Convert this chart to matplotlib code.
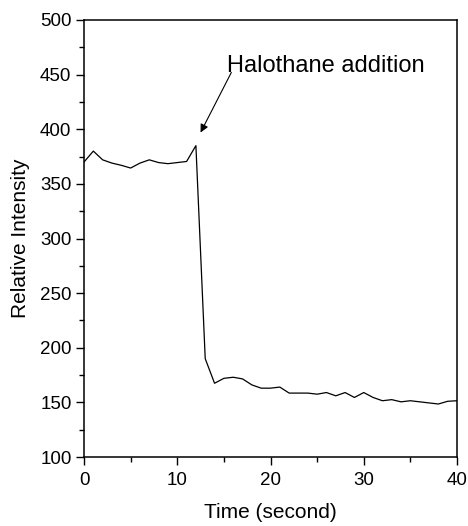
import matplotlib
matplotlib.use('Agg')
import matplotlib.pyplot as plt
from matplotlib.ticker import MultipleLocator

plt.rcParams['font.family'] = ['Liberation Sans', 'DejaVu Sans']

# Дані
time_s = list(range(0, 41))
intensity = [370, 380, 372, 369, 367, 364.5, 369, 372, 369.5, 368.5, 369.5, 370.5,
             385, 190, 167.5, 172, 173, 171.5, 166, 163, 163, 164, 158.5, 158.5,
             158.5, 157.5, 159, 156, 159, 154.5, 159, 154.5, 151.5, 152.5, 150.5,
             151.5, 150.5, 149.5, 148.5, 151, 151.5]

fig = plt.figure(figsize=(4.68, 5.26), dpi=100)
ax = fig.add_axes([84 / 468, 1 - 457 / 526, 373 / 468, 437 / 526])

ax.plot(time_s, intensity, color='black', linewidth=0.9)

ax.set_xlim(0, 40)
ax.set_ylim(100, 500)
ax.xaxis.set_major_locator(MultipleLocator(10))
ax.xaxis.set_minor_locator(MultipleLocator(5))
ax.yaxis.set_major_locator(MultipleLocator(50))
ax.yaxis.set_minor_locator(MultipleLocator(25))

ax.tick_params(which='both', direction='out', top=False, right=False,
               width=1.0, labelsize=13.5)
ax.tick_params(which='major', length=6)
ax.tick_params(which='minor', length=3.5)
ax.tick_params(axis='x', pad=5)
ax.tick_params(axis='y', pad=3)
for s in ax.spines.values():
    s.set_linewidth(1.1)

ax.set_xlabel('Time (second)', fontsize=15)
ax.set_ylabel('Relative Intensity', fontsize=15)
ax.xaxis.set_label_coords(0.5, -0.105)
ax.yaxis.set_label_coords(-0.145, 0.5)

# Підпис і стрілка
ax.text(15.3, 452, 'Halothane addition', fontsize=17, ha='left', va='baseline')
ax.annotate('', xy=(12.5, 397), xytext=(15.8, 452),
            arrowprops=dict(arrowstyle='-|>', color='black', lw=0.8,
                            mutation_scale=12, shrinkA=0, shrinkB=0))

fig.savefig('out.png', dpi=100)
